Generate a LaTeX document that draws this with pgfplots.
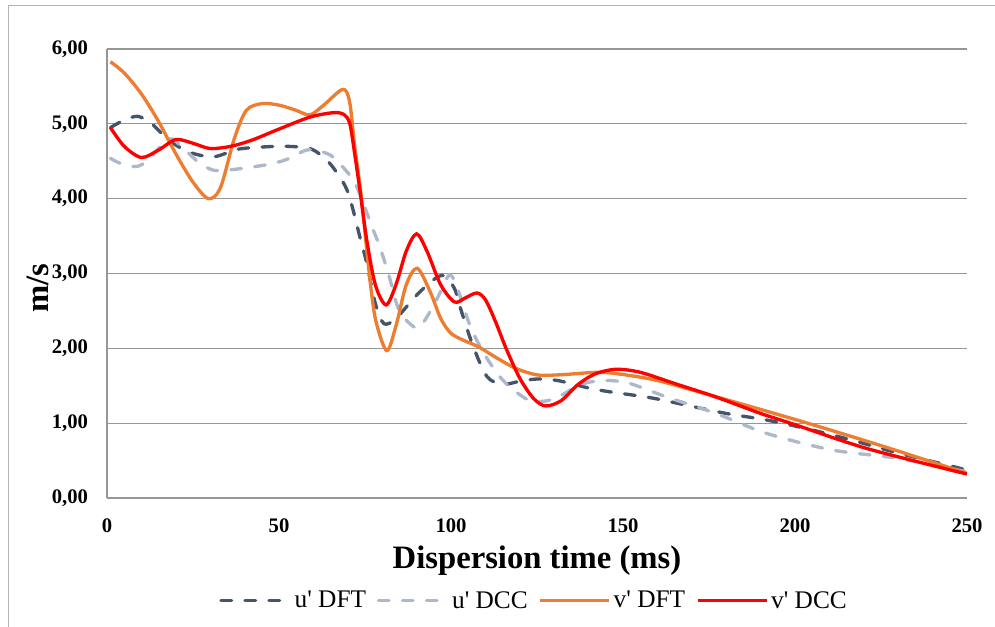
\documentclass[border=0pt]{standalone}
\usepackage{fontspec}
\setmainfont{Liberation Serif}
\usepackage{pgfplots}
\pgfplotsset{compat=1.18}
\definecolor{cDark}{HTML}{44546A}
\definecolor{cLight}{HTML}{ADB9CA}
\definecolor{cOrange}{HTML}{ED7D31}
\definecolor{cRed}{HTML}{FF0000}
\definecolor{cGrid}{HTML}{969696}
\definecolor{cFrame}{HTML}{B4B4B4}
\begin{document}
\begin{tikzpicture}
\path[use as bounding box] (0,0) rectangle (746.25pt,469.5pt);
\draw[cFrame, line width=0.8pt] (6.2pt,-2pt) -- (6.2pt,465.3pt) -- (748pt,465.3pt);
\begin{axis}[
  at={(80.25pt,96pt)}, anchor=south west,
  scale only axis, width=645pt, height=336.75pt,
  xmin=0, xmax=250, ymin=0, ymax=6,
  xtick={0,50,...,250}, ytick={0,1,...,6},
  /pgf/number format/assume math mode=true,
  major tick length=0pt,
  axis x line*=bottom, axis y line*=left,
  axis line style={cGrid, line width=0.9pt},
  ymajorgrids, major grid style={cGrid, line width=0.9pt},
  tick label style={font=\bfseries\fontsize{15.5}{15.5}\selectfont},
  yticklabel style={inner sep=0pt, xshift=-14pt, /pgf/number format/.cd, fixed, fixed zerofill, precision=2, use comma},
  xticklabel style={inner sep=0pt, yshift=-15pt},
  xlabel={Dispersion time (ms)},
  xlabel style={at={(axis description cs:0.5,0)}, anchor=base, yshift=-53pt, font=\bfseries\fontsize{24.5}{24.5}\selectfont},
  legend columns=4,
  legend style={at={(axis description cs:0.497,0)}, anchor=center, yshift=-77pt, draw=none, fill=none,
    font=\fontsize{19}{19}\selectfont,
    /tikz/every even column/.append style={column sep=6pt},
    nodes={inner sep=2pt}},
  legend image code/.code={\draw[#1] (0pt,0pt) -- (52pt,0pt);},
  every axis plot/.append style={line width=2.5pt, smooth, tension=0.5},
]
\addplot[cDark, dash pattern=on 8pt off 10pt, line cap=round] coordinates {
(1,4.95) (5,5.05) (9,5.10) (13,5.0) (18,4.78) (24,4.62) (31,4.56) (38,4.66) (45,4.69) (52,4.70) (59,4.67) (63,4.55) (66,4.40) (70,4.09) (73.5,3.49) (75.5,3.14) (78,2.60) (80.5,2.33) (84,2.40) (90,2.71) (95,2.92) (98,2.97) (101,2.80) (103,2.5) (106.5,2.02) (110.5,1.62) (115,1.52) (120,1.56) (125,1.59) (131,1.57) (140,1.47) (146,1.42) (158,1.34) (168.5,1.24) (180,1.13) (192,1.04) (204,0.92) (216,0.78) (230,0.60) (246,0.42) (250,0.37)
};
\addlegendentry{u\textquotesingle{} DFT}
\addplot[cLight, dash pattern=on 8pt off 10pt, line cap=round] coordinates {
(1,4.54) (4,4.47) (8.6,4.43) (12,4.52) (18,4.80) (22,4.68) (27,4.47) (31,4.38) (35,4.38) (46,4.45) (52,4.52) (58,4.65) (62,4.63) (65,4.58) (68,4.45) (71.6,4.25) (74,4.0) (77.4,3.58) (79,3.40) (81.8,3.0) (85,2.50) (90,2.27) (93,2.42) (96.8,2.74) (99.5,2.98) (101.5,2.85) (104.6,2.42) (106.5,2.2) (110,1.90) (114.2,1.62) (118,1.45) (123,1.30) (128,1.30) (132,1.37) (136.5,1.49) (140.4,1.55) (146,1.57) (152,1.53) (162.7,1.35) (177,1.13) (192,0.86) (211,0.64) (230,0.53) (250,0.35)
};
\addlegendentry{u\textquotesingle{} DCC}
\addplot[cOrange] coordinates {
(1,5.83) (5,5.68) (10,5.40) (15,5.03) (20,4.60) (25,4.22) (29.5,4.00) (33,4.15) (37,4.80) (40.5,5.18) (45,5.27) (50,5.25) (55,5.18) (59,5.12) (63,5.25) (68.5,5.46) (70.5,5.30) (72,4.70) (74,4.00) (76,3.10) (78,2.40) (81.3,1.97) (84,2.30) (87,2.85) (90.2,3.07) (94,2.75) (97,2.40) (100,2.20) (104,2.10) (108,2.02) (113,1.88) (118,1.75) (122,1.68) (126,1.64) (133,1.65) (143,1.68) (150,1.65) (160,1.57) (175,1.38) (200,1.05) (225,0.70) (250,0.33)
};
\addlegendentry{v\textquotesingle{} DFT}
\addplot[cRed] coordinates {
(1,4.95) (5,4.70) (10,4.55) (15,4.65) (20,4.79) (25,4.74) (30,4.67) (36,4.70) (42,4.78) (50,4.93) (59,5.09) (66,5.15) (69,5.12) (70.6,5.0) (72,4.6) (73.5,4.12) (75.5,3.45) (78,2.85) (81.1,2.58) (84,2.85) (87,3.30) (90,3.53) (93,3.30) (97,2.85) (101,2.62) (104,2.67) (107.5,2.74) (110,2.65) (113,2.35) (116,2.00) (120,1.60) (124,1.33) (127.5,1.23) (132,1.30) (137,1.52) (142,1.66) (148,1.72) (155,1.68) (165,1.53) (177,1.35) (190,1.13) (200,0.98) (221,0.66) (250,0.32)
};
\addlegendentry{v\textquotesingle{} DCC}
\end{axis}
\node[rotate=90, anchor=center, inner sep=0pt, font=\bfseries\fontsize{24.5}{24.5}\selectfont] at (28.5pt,253.5pt) {m/s};
\end{tikzpicture}
\end{document}
